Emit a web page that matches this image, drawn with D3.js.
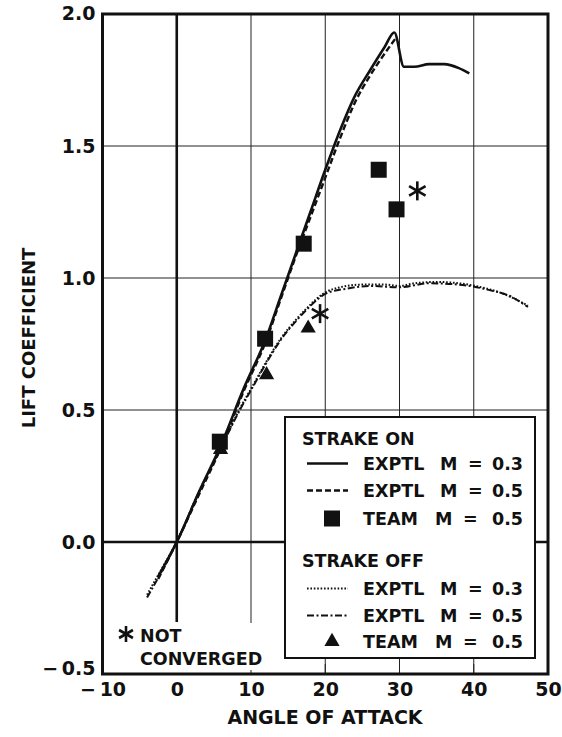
<!DOCTYPE html>
<html><head><meta charset="utf-8">
<script src="https://cdn.jsdelivr.net/npm/d3@7"></script>
<style>
html,body{margin:0;padding:0;background:#fff;}
svg{display:block;}
text{font-family:"DejaVu Sans",sans-serif;font-weight:bold;fill:#111;}
</style></head><body>
<svg id="chart" width="562" height="737"></svg>
<script>
// Lift coefficient against angle of attack, with and without the strake.
const xTicks = [-10, 0, 10, 20, 30, 40, 50];
const yTicks = [-0.5, 0.0, 0.5, 1.0, 1.5, 2.0];

// Strake on, experiment, M = 0.3
const onM03Alpha = [-2.5, 0, 3, 6, 9, 12, 14, 16, 18, 20, 22, 24, 26, 28, 29.3, 30.6, 32, 34, 36, 38, 39.4];
const onM03CL    = [-0.13, 0, 0.19, 0.37, 0.58, 0.77, 0.93, 1.09, 1.25, 1.41, 1.56, 1.69, 1.785, 1.875, 1.93, 1.80, 1.80, 1.81, 1.81, 1.795, 1.775];
// Strake on, experiment, M = 0.5
const onM05Alpha = [-2.5, 0, 3, 6, 9, 12, 14, 16, 18, 20, 22, 24, 26, 28, 29.4];
const onM05CL    = [-0.14, 0, 0.18, 0.36, 0.57, 0.76, 0.92, 1.08, 1.23, 1.38, 1.53, 1.665, 1.765, 1.85, 1.905];
// Strake off, experiment, M = 0.3
const offM03Alpha = [-4, -2, 0, 3, 6, 8.5, 10.3, 12, 14, 16, 17.5, 19, 20, 22, 25, 28, 30, 32, 35, 38, 41, 44, 47.3];
const offM03CL    = [-0.2, -0.1, 0, 0.19, 0.36, 0.505, 0.595, 0.68, 0.77, 0.84, 0.885, 0.925, 0.945, 0.965, 0.975, 0.975, 0.97, 0.98, 0.985, 0.98, 0.965, 0.94, 0.895];
// Strake off, experiment, M = 0.5
const offM05Alpha = [-4, -2, 0, 3, 6, 8.5, 10.3, 12, 14, 16, 17.5, 19, 20, 23, 26, 30, 34, 38, 42, 45, 47.3];
const offM05CL    = [-0.21, -0.11, 0, 0.19, 0.36, 0.5, 0.59, 0.675, 0.765, 0.835, 0.88, 0.92, 0.94, 0.96, 0.97, 0.965, 0.98, 0.975, 0.955, 0.93, 0.89];
// TEAM computations, M = 0.5
const teamOnAlpha  = [5.8, 11.9, 17.1, 27.2, 29.6];
const teamOnCL     = [0.38, 0.77, 1.13, 1.41, 1.26];
const teamOffAlpha = [5.9, 12.1, 17.7];
const teamOffCL    = [0.35, 0.633, 0.81];
// Cases that did not converge
const notConvAlpha = [32.4, 19.3];
const notConvCL    = [1.33, 0.865];

const svg = d3.select("#chart");
const x = d3.scaleLinear().domain([-10, 50]).range([102.5, 548]);
const y = d3.scaleLinear().domain([-0.5, 2.0]).range([674, 14]);
const X0 = x(-10), X1 = x(50), Y0 = y(-0.5), Y1 = y(2.0);

// grid
const g = svg.append("g");
g.selectAll("line.vx").data(xTicks.filter(v => v > 0 && v < 50)).join("line")
  .attr("x1", d => x(d)).attr("x2", d => x(d)).attr("y1", Y1).attr("y2", Y0)
  .attr("stroke", "#222").attr("stroke-width", 1);
g.selectAll("line.hy").data(yTicks.filter(v => v > 0 && v < 2)).join("line")
  .attr("x1", X0).attr("x2", X1).attr("y1", d => y(d)).attr("y2", d => y(d))
  .attr("stroke", "#222").attr("stroke-width", 1);
// zero axes
g.append("line").attr("x1", X0).attr("x2", X1).attr("y1", y(0)).attr("y2", y(0))
  .attr("stroke", "#111").attr("stroke-width", 2.6);
g.append("line").attr("x1", x(0)).attr("x2", x(0)).attr("y1", Y1).attr("y2", 622)
  .attr("stroke", "#111").attr("stroke-width", 2.6);

// curves
const line = d3.line().x(d => x(d[0])).y(d => y(d[1])).curve(d3.curveMonotoneX);
const zip = (a, b) => a.map((v, i) => [v, b[i]]);
const curves = [
  {pts: zip(offM03Alpha, offM03CL), dash: "1.6,1.8", w: 2.0},
  {pts: zip(offM05Alpha, offM05CL), dash: "7,2.5,2,2.5", w: 2.0},
  {pts: zip(onM05Alpha, onM05CL), dash: "6,3", w: 2.4},
  {pts: zip(onM03Alpha, onM03CL), dash: null, w: 2.6}
];
svg.append("g").selectAll("path").data(curves).join("path")
  .attr("d", d => line(d.pts)).attr("fill", "none").attr("stroke", "#111")
  .attr("stroke-width", d => d.w).attr("stroke-dasharray", d => d.dash)
  .attr("stroke-linejoin", "round");

// markers
const tri = d3.symbol(d3.symbolTriangle, 100);
svg.append("g").selectAll("path").data(zip(teamOffAlpha, teamOffCL)).join("path")
  .attr("d", tri).attr("transform", d => `translate(${x(d[0])},${y(d[1])})`).attr("fill", "#111");
svg.append("g").selectAll("rect").data(zip(teamOnAlpha, teamOnCL)).join("rect")
  .attr("x", d => x(d[0]) - 8).attr("y", d => y(d[1]) - 8).attr("width", 16).attr("height", 16)
  .attr("fill", "#111");

// asterisk glyph
function asterisk(sel, r) {
  [90, 30, 150].forEach(a => {
    const t = a * Math.PI / 180;
    sel.append("line").attr("x1", -r * Math.cos(t)).attr("y1", -r * Math.sin(t))
      .attr("x2", r * Math.cos(t)).attr("y2", r * Math.sin(t))
      .attr("stroke", "#111").attr("stroke-width", 2.6);
  });
}
zip(notConvAlpha, notConvCL).forEach(d => {
  asterisk(svg.append("g").attr("transform", `translate(${x(d[0])},${y(d[1])})`), 9.5);
});

// footnote
svg.append("rect").attr("x", 112).attr("y", 623).attr("width", 154).attr("height", 47).attr("fill", "#fff");
asterisk(svg.append("g").attr("transform", "translate(126,634)"), 8);
svg.append("text").attr("x", 140).attr("y", 642).attr("font-size", 17.5).text("NOT");
svg.append("text").attr("x", 140).attr("y", 665).attr("font-size", 17.5).text("CONVERGED");

// legend
const lg = svg.append("g");
lg.append("rect").attr("x", 285).attr("y", 417).attr("width", 250).attr("height", 241)
  .attr("fill", "#fff").attr("stroke", "#111").attr("stroke-width", 2);
const fs = 17.5;
lg.append("text").attr("x", 302).attr("y", 445).attr("font-size", fs).text("STRAKE ON");
lg.append("text").attr("x", 302).attr("y", 567).attr("font-size", fs).text("STRAKE OFF");
const rows = [
  {base: 470, kind: "line", dash: null, w: 2.6, lab: "EXPTL", m: "0.3", dx: 0},
  {base: 497, kind: "line", dash: "6,3", w: 2.4, lab: "EXPTL", m: "0.5", dx: 0},
  {base: 525, kind: "sq", lab: "TEAM", m: "0.5", dx: -5},
  {base: 595, kind: "line", dash: "1.6,1.8", w: 2.0, lab: "EXPTL", m: "0.3", dx: 0},
  {base: 622, kind: "line", dash: "7,2.5,2,2.5", w: 2.0, lab: "EXPTL", m: "0.5", dx: 0},
  {base: 648, kind: "tri", lab: "TEAM", m: "0.5", dx: -5}
];
rows.forEach(r => {
  const cy = r.base - 6.5;
  if (r.kind === "line") {
    lg.append("line").attr("x1", 307).attr("x2", 348).attr("y1", cy).attr("y2", cy)
      .attr("stroke", "#111").attr("stroke-width", r.w).attr("stroke-dasharray", r.dash);
  } else if (r.kind === "sq") {
    lg.append("rect").attr("x", 324).attr("y", cy - 8).attr("width", 16).attr("height", 16).attr("fill", "#111");
  } else {
    lg.append("path").attr("d", tri).attr("transform", `translate(332,${cy})`).attr("fill", "#111");
  }
  lg.append("text").attr("x", 363).attr("y", r.base).attr("font-size", fs).text(r.lab);
  lg.append("text").attr("x", 440 + r.dx).attr("y", r.base).attr("font-size", fs).text("M");
  lg.append("text").attr("x", 468 + r.dx).attr("y", r.base).attr("font-size", fs).text("=");
  lg.append("text").attr("x", 523).attr("y", r.base).attr("font-size", fs).attr("text-anchor", "end").text(r.m);
});

// bottom ticks visible under the legend
svg.append("g").selectAll("line").data([20, 30, 40]).join("line")
  .attr("x1", d => x(d)).attr("x2", d => x(d)).attr("y1", Y0 - 10).attr("y2", Y0)
  .attr("stroke", "#222").attr("stroke-width", 1);

// frame
svg.append("path").attr("d", `M${X0},${Y1}H${X1}V${Y0}H${X0}Z`).attr("fill", "none")
  .attr("stroke", "#111").attr("stroke-width", 3);

// axes labels
const fmtY = v => (v < 0 ? "\u2212\u2009" : "") + Math.abs(v).toFixed(1);
const fmtX = v => (v < 0 ? "\u2212\u2009" : "") + Math.abs(v);
const ax = svg.append("g").attr("transform", `translate(0,${Y0})`)
  .call(d3.axisBottom(x).tickValues(xTicks).tickSize(0).tickPadding(8.5).tickFormat(fmtX));
ax.select(".domain").remove();
ax.selectAll("text").attr("font-size", 19).attr("font-family", null).style("fill", "#111");
const ay = svg.append("g").attr("transform", `translate(${X0},0)`)
  .call(d3.axisLeft(y).tickValues(yTicks).tickSize(0).tickPadding(7).tickFormat(fmtY));
ay.select(".domain").remove();
ay.selectAll("text").attr("font-size", 19).attr("font-family", null).style("fill", "#111")
  .attr("dy", d => d === 2.0 ? "0.3em" : (d === -0.5 ? "0.0em" : "0.35em"));

svg.append("text").attr("x", 325).attr("y", 724).attr("font-size", 19).attr("text-anchor", "middle")
  .text("ANGLE OF ATTACK");
svg.append("text").attr("transform", "translate(35,338) rotate(-90)").attr("font-size", 18)
  .attr("text-anchor", "middle").text("LIFT COEFFICIENT");
</script>
</body></html>
